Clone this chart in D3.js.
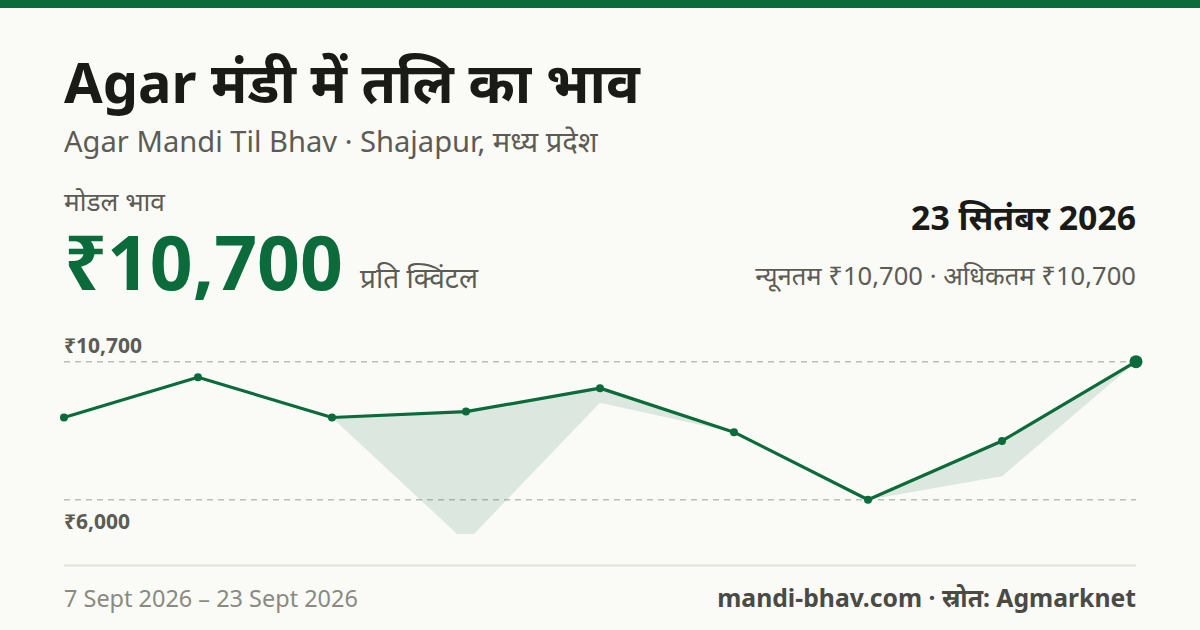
<!DOCTYPE html>
<html><head><meta charset="utf-8">
<script src="https://cdn.jsdelivr.net/npm/d3@7"></script>
<style>
html,body{margin:0;padding:0;background:#fafaf6;}
svg{display:block;font-family:"Noto Sans","Noto Sans Devanagari",sans-serif;}
</style></head>
<body><svg id="c" width="1200" height="630"></svg>
<script>
const dates = ["7 Sept","9 Sept","10 Sept","11 Sept","14 Sept","16 Sept","18 Sept","21 Sept","23 Sept"];
const modalPrices = [8800,10170,8800,9000,9800,8300,6000,8000,10700];
const minPrices   = [8800,10170,8800,4550,9300,8300,6000,6800,10700];
const tickValues = [6000,10700];
const tickLabels = ["₹6,000","₹10,700"];

const svg = d3.select("#c");
const green = "#0b6b3a";
svg.append("rect").attr("width",1200).attr("height",630).attr("fill","#fafaf6");
svg.append("rect").attr("width",1200).attr("height",8).attr("fill",green);

function fit(sel, w){ // scale text to a target width
  const n = sel.node(); const l = n.getComputedTextLength();
  if (l>0) sel.attr("font-size", parseFloat(sel.attr("font-size"))*w/l);
  return sel;
}

fit(svg.append("text").attr("x",64).attr("y",103).attr("font-size",56).attr("font-weight",700).attr("fill","#1a1a16").text("Agar मंडी में तलि का भाव"),576);
fit(svg.append("text").attr("x",64).attr("y",152).attr("font-size",26).attr("fill","#5c5c54").text("Agar Mandi Til Bhav · Shajapur, मध्य प्रदेश"),534);
fit(svg.append("text").attr("x",64).attr("y",211).attr("font-size",24).attr("fill","#5c5c54").text("मोडल भाव"),101);
fit(svg.append("text").attr("x",64).attr("y",290).attr("font-size",76).attr("font-weight",700).attr("fill",green).text("₹10,700"),279);
fit(svg.append("text").attr("x",360).attr("y",288).attr("font-size",27).attr("fill","#5c5c54").text("प्रति क्विंटल"),118);
fit(svg.append("text").attr("x",1136).attr("y",230).attr("text-anchor","end").attr("font-size",34).attr("font-weight",700).attr("fill","#1a1a16").text("23 सितंबर 2026"),225);
fit(svg.append("text").attr("x",1136).attr("y",285).attr("text-anchor","end").attr("font-size",25).attr("fill","#5c5c54").text("न्यूनतम ₹10,700 · अधिकतम ₹10,700"),381);

const x = d3.scalePoint().domain(dates).range([64,1136]);
const y = d3.scaleLinear().domain([6000,10700]).range([499.7,361.7]);

svg.append("defs").append("clipPath").attr("id","clip").append("rect").attr("x",0).attr("y",320).attr("width",1200).attr("height",214);

// gridlines
svg.append("g").selectAll("line").data(tickValues).join("line")
  .attr("x1",64).attr("x2",1136).attr("y1",d=>y(d)).attr("y2",d=>y(d))
  .attr("stroke","#bdbdb5").attr("stroke-width",1.5).attr("stroke-dasharray","6,5");
svg.append("g").selectAll("text").data(tickValues).join("text")
  .attr("x",64).attr("y",(d,i)=> i===0 ? y(d)+29 : y(d)-9)
  .attr("font-size",21).attr("font-weight",700).attr("fill","#5c5c54")
  .text((d,i)=>tickLabels[i]);

const idx = d3.range(dates.length);
const area = d3.area().x(i=>x(dates[i])).y0(i=>y(minPrices[i])).y1(i=>y(modalPrices[i]));
svg.append("path").datum(idx).attr("d",area).attr("fill",green).attr("fill-opacity",0.12).attr("clip-path","url(#clip)");
const line = d3.line().x(i=>x(dates[i])).y(i=>y(modalPrices[i]));
svg.append("path").datum(idx).attr("d",line).attr("fill","none").attr("stroke",green).attr("stroke-width",3.2).attr("stroke-linejoin","round");
svg.append("g").selectAll("circle").data(idx).join("circle")
  .attr("cx",i=>x(dates[i])).attr("cy",i=>y(modalPrices[i]))
  .attr("r",i=> i===idx.length-1 ? 6.5 : 4).attr("fill",green);

svg.append("line").attr("x1",64).attr("x2",1136).attr("y1",565.5).attr("y2",565.5).attr("stroke","#e2e2db").attr("stroke-width",2);
fit(svg.append("text").attr("x",64).attr("y",607).attr("font-size",23).attr("fill","#8a8a80").text("7 Sept 2026 – 23 Sept 2026"),294);
fit(svg.append("text").attr("x",1136).attr("y",607).attr("text-anchor","end").attr("font-size",24).attr("font-weight",700).attr("fill","#4a4a44").text("mandi-bhav.com · स्रोत: Agmarknet"),419);
</script></body></html>
